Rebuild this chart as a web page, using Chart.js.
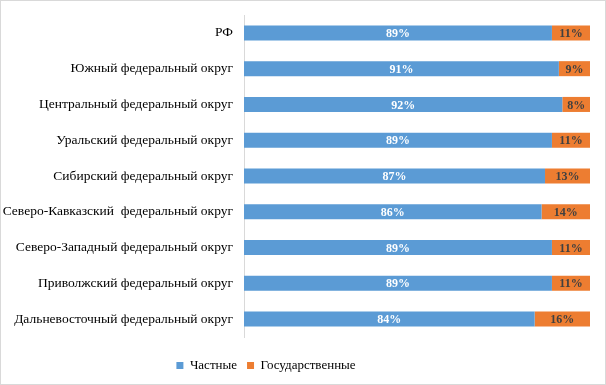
<!DOCTYPE html>
<html>
<head>
<meta charset="utf-8">
<script src="https://cdn.jsdelivr.net/npm/chart.js@4/dist/chart.umd.min.js"></script>
<style>
  html, body { margin: 0; padding: 0; background: #fff; }
  canvas { display: block; }
</style>
</head>
<body>
<canvas id="chart" width="606" height="385"></canvas>
<script>
var categories = [
    'РФ',
    'Южный федеральный округ',
    'Центральный федеральный округ',
    'Уральский федеральный округ',
    'Сибирский федеральный округ',
    'Северо-Кавказский  федеральный округ',
    'Северо-Западный федеральный округ',
    'Приволжский федеральный округ',
    'Дальневосточный федеральный округ'
]
var privateShare = [89, 91, 92, 89, 87, 86, 89, 89, 84]
var stateShare = [11, 9, 8, 11, 13, 14, 11, 11, 16]

var serif = '"Liberation Serif", "Times New Roman", serif'

// frame around the whole picture
var framePlugin = {
    id: 'frame',
    beforeDraw: function (chart) {
        var c = chart.ctx
        c.save()
        c.fillStyle = '#fff'
        c.fillRect(0, 0, chart.width, chart.height)
        c.strokeStyle = '#d9d9d9'
        c.lineWidth = 1
        c.strokeRect(0.5, 0.5, chart.width - 1, chart.height - 1)
        c.restore()
    }
}

// legend sits a bit left of centre and lower in the original
var legendShift = {
    id: 'legendShift',
    afterLayout: function (chart) {
        var lg = chart.legend
        if (!lg) return
        lg.left -= 29
        lg.right -= 29
        lg.top += 12
        lg.bottom += 12
    }
}

// percent labels in the middle of each segment
var valueLabels = {
    id: 'valueLabels',
    afterDatasetsDraw: function (chart) {
        var c = chart.ctx
        c.save()
        c.font = 'bold 12px ' + serif
        c.textAlign = 'center'
        c.textBaseline = 'middle'
        chart.data.datasets.forEach(function (ds, i) {
            var meta = chart.getDatasetMeta(i)
            c.fillStyle = i === 0 ? '#ffffff' : '#404040'
            meta.data.forEach(function (bar, j) {
                var x = (bar.x + bar.base) / 2
                c.fillText(ds.data[j] + '%', x, bar.y + 1)
            })
        })
        c.restore()
    }
}

var ctx = document.getElementById('chart').getContext('2d')
var chart = new Chart(ctx, {
    type: 'bar',
    data: {
        labels: categories,
        datasets: [{
            label: 'Частные',
            data: privateShare,
            backgroundColor: '#5b9bd5',
            barPercentage: 0.42,
            categoryPercentage: 1
        }, {
            label: 'Государственные',
            data: stateShare,
            backgroundColor: '#ed7d31',
            barPercentage: 0.42,
            categoryPercentage: 1
        }]
    },
    options: {
        indexAxis: 'y',
        responsive: false,
        animation: false,
        layout: {
            padding: { left: 0, right: 16, top: 15, bottom: 15 }
        },
        scales: {
            x: {
                stacked: true,
                min: 0,
                max: 100,
                display: false
            },
            y: {
                stacked: true,
                grid: { display: false, drawTicks: false },
                border: { display: true, color: '#d9d9d9' },
                ticks: {
                    color: '#000',
                    padding: 11,
                    font: { family: serif, size: 13.5 }
                },
                afterFit: function (scale) {
                    scale.width = 244
                    scale.paddingTop = 0
                    scale.paddingBottom = 0
                }
            }
        },
        plugins: {
            legend: {
                position: 'bottom',
                labels: {
                    color: '#000',
                    boxWidth: 7,
                    boxHeight: 7,
                    padding: 10,
                    font: { family: serif, size: 13 }
                }
            },
            tooltip: { enabled: false }
        }
    },
    plugins: [framePlugin, legendShift, valueLabels]
})
</script>
</body>
</html>
